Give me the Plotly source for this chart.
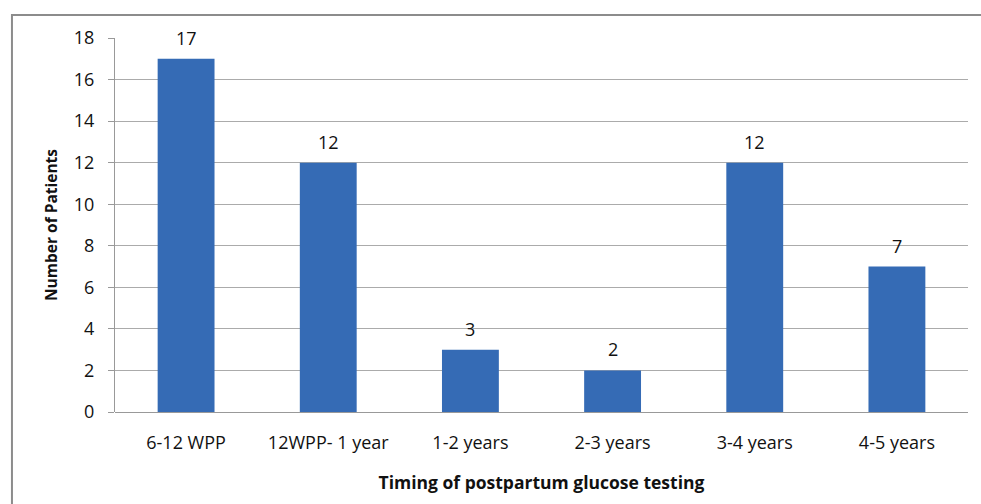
import plotly.graph_objects as go

categories = ["6-12 WPP", "12WPP- 1 year", "1-2 years", "2-3 years", "3-4 years", "4-5 years"]
patients = [17, 12, 3, 2, 12, 7]
y_ticks = [0, 2, 4, 6, 8, 10, 12, 14, 16, 18]

FONT = "'Open Sans', Lato, sans-serif"

fig = go.Figure(
    go.Bar(
        x=categories,
        y=patients,
        width=0.4,
        marker=dict(color="#356BB5", line=dict(width=0)),
        hoverinfo="x+y",
    )
)

annotations = [
    dict(x=c, y=v, xref="x", yref="y", text=str(v), showarrow=False,
         yshift=21, font=dict(size=18, color="#111", family=FONT))
    for c, v in zip(categories, patients)
]

fig.update_layout(
    width=981,
    height=504,
    margin=dict(l=115, r=13, t=38, b=92, autoexpand=False),
    paper_bgcolor="white",
    plot_bgcolor="white",
    showlegend=False,
    font=dict(family=FONT, color="#111"),
    annotations=annotations,
    xaxis=dict(
        type="category",
        automargin=False,
        showgrid=False,
        showline=False,
        ticks="",
        tickfont=dict(size=18),
        ticklabelstandoff=18,
        title=dict(text="<b>Timing of postpartum glucose testing</b>", font=dict(size=17.5), standoff=23),
    ),
    yaxis=dict(
        automargin=False,
        range=[0, 18],
        tickvals=y_ticks,
        showgrid=True,
        gridcolor="#ABABAB",
        gridwidth=1,
        showline=True,
        linecolor="#999",
        linewidth=1,
        ticks="outside",
        ticklen=6,
        tickcolor="#999",
        tickfont=dict(size=18),
        ticklabelstandoff=10,
        zeroline=True,
        zerolinecolor="#999",
        zerolinewidth=1,
        title=dict(text="<b>Number of Patients</b>", font=dict(size=15.5), standoff=12),
    ),
    shapes=[
        dict(type="rect", xref="paper", yref="paper",
             x0=-0.1208, x1=1.2, y0=-0.5, y1=1.0615,
             line=dict(color="#8C8C8C", width=2), fillcolor="rgba(0,0,0,0)", layer="below"),
    ],
)

fig.write_html("out.html", config={"displayModeBar": False},
               post_script="document.body.style.margin='0';")
